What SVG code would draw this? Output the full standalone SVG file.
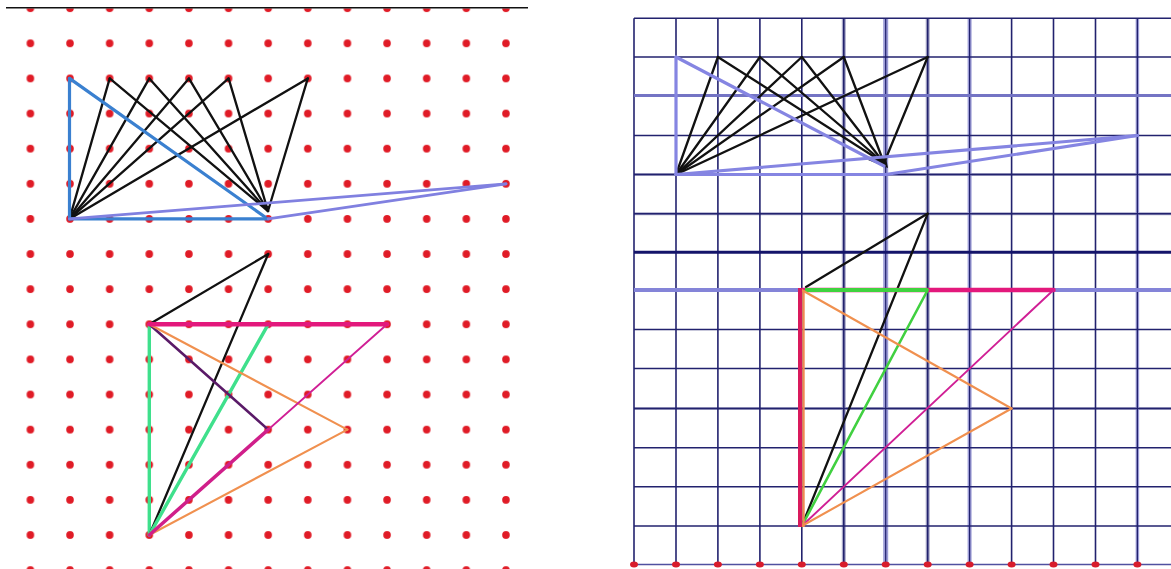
<svg xmlns="http://www.w3.org/2000/svg" width="1171" height="569" viewBox="0 0 1171 569">
<style>
.grid{stroke:#22226e;stroke-width:1.6;fill:none}
.band{stroke:#9c9cd6;stroke-width:5;fill:none}
.bandg{stroke:#a8a8c8;stroke-width:4;fill:none}
.blk{stroke:#111;stroke-width:2.3;fill:none;stroke-linecap:round}
.blue{stroke:#3a80d0;stroke-width:3.2;fill:none;stroke-linecap:round}
.lav{stroke:#8080e0;stroke-width:2.8;fill:none;stroke-linecap:round}
.lav2{stroke:#8585e2;stroke-width:3.2;fill:none;stroke-linecap:round}
.pink{stroke:#e3187c;stroke-width:4.5;fill:none;stroke-linecap:round}
.mag{stroke:#d01f95;stroke-width:1.9;fill:none;stroke-linecap:round}
.magT{stroke:#d01f8a;stroke-width:3.5;fill:none;stroke-linecap:round}
.org{stroke:#f0904f;stroke-width:2.1;fill:none;stroke-linecap:round}
.grn{stroke:#3fe08c;stroke-width:3.4;fill:none;stroke-linecap:round}
.lime{stroke:#40d040;stroke-width:2.6;fill:none;stroke-linecap:round}
.pur{stroke:#5a1a68;stroke-width:2.6;fill:none;stroke-linecap:round}
.rdot{fill:#d81c2c}
</style>
<defs>
<pattern id="dots" patternUnits="userSpaceOnUse" x="10.585" y="-9.36" width="39.63" height="35.12">
<circle cx="19.815" cy="17.56" r="3.8" fill="#e01b26"/>
</pattern>
</defs>
<rect width="1171" height="569" fill="#ffffff"/>

<!-- LEFT PANEL -->
<g id="left-board">
<rect x="10" y="8.4" width="518" height="561" fill="url(#dots)"/>
<line x1="6" y1="7.7" x2="528" y2="7.7" stroke="#111" stroke-width="1.6"/>
</g>

<g id="connectors">
<!-- left top figure -->
<g id="left-top">
<g class="blk">
<line x1="69.5" y1="218.9" x2="109.7" y2="78.4"/>
<line x1="69.5" y1="218.9" x2="149.3" y2="78.4"/>
<line x1="69.5" y1="218.9" x2="188.9" y2="78.4"/>
<line x1="69.5" y1="218.9" x2="228.6" y2="78.4"/>
<line x1="69.5" y1="218.9" x2="307.8" y2="78.4"/>
<line x1="268" y1="211" x2="109.7" y2="78.4"/>
<line x1="268" y1="211" x2="149.3" y2="78.4"/>
<line x1="268" y1="211" x2="188.9" y2="78.4"/>
<line x1="268" y1="211" x2="228.6" y2="78.4"/>
<line x1="268" y1="211" x2="307.8" y2="78.4"/>
</g>
<path d="M268,211 l-4,-5 l6,0 z" fill="#111"/>
<line class="blue" x1="69.5" y1="78.4" x2="69.5" y2="218.9"/>
<line class="blue" x1="69.5" y1="218.9" x2="268.2" y2="218.9"/>
<line class="blue" x1="69.5" y1="78.4" x2="265" y2="217" stroke="#4a8fd8"/>
<line class="lav" x1="69.5" y1="218.9" x2="506" y2="183.8"/>
<line class="lav" x1="268.2" y1="218.9" x2="506" y2="183.8"/>
</g>
<!-- left bottom figure -->
<g id="left-bottom">
<line class="grn" x1="149.3" y1="324.3" x2="149.3" y2="535"/>
<line class="blk" x1="268.2" y1="254" x2="149.3" y2="324.3"/>
<line class="blk" x1="268.2" y1="254" x2="149.3" y2="535"/>
<line class="grn" x1="268.2" y1="324.3" x2="149.3" y2="535" stroke-width="2.4"/>
<line class="pur" x1="149.3" y1="324.3" x2="268.2" y2="429.6"/>
<line class="org" x1="149.3" y1="324.3" x2="347.4" y2="429.6"/>
<line class="org" x1="347.4" y1="429.6" x2="149.3" y2="535"/>
<line class="mag" x1="387.1" y1="324.3" x2="149.3" y2="535"/>
<line class="magT" x1="268.2" y1="429.6" x2="149.3" y2="535"/>
<line class="pink" x1="149.3" y1="324.3" x2="387.1" y2="324.3"/>
</g>
</g>

<!-- RIGHT PANEL GRID -->
<g id="right-board">
<g class="bandg">
<line x1="843.8" y1="18.3" x2="843.8" y2="564.5"/>
<line x1="927.7" y1="18.3" x2="927.7" y2="564.5"/>
<line x1="634" y1="174.5" x2="1171" y2="174.5" stroke-width="3"/>
<line x1="634" y1="213.8" x2="1171" y2="213.8" stroke-width="3"/>
<line x1="634" y1="408.5" x2="1171" y2="408.5" stroke-width="3"/>
</g>
<g class="band">
<line x1="885.7" y1="18.3" x2="885.7" y2="564.5"/>
<line x1="969.6" y1="18.3" x2="969.6" y2="564.5" stroke-width="4"/>
<line x1="1137.4" y1="18.3" x2="1137.4" y2="564.5" stroke-width="3.5"/>
</g>
<g class="grid">
<line x1="634" y1="18.3" x2="634" y2="564.5"/>
<line x1="676" y1="18.3" x2="676" y2="564.5"/>
<line x1="717.9" y1="18.3" x2="717.9" y2="564.5"/>
<line x1="759.9" y1="18.3" x2="759.9" y2="564.5"/>
<line x1="801.8" y1="18.3" x2="801.8" y2="564.5"/>
<line x1="843.8" y1="18.3" x2="843.8" y2="564.5"/>
<line x1="885.7" y1="18.3" x2="885.7" y2="564.5" stroke-width="1.2"/>
<line x1="927.7" y1="18.3" x2="927.7" y2="564.5"/>
<line x1="969.6" y1="18.3" x2="969.6" y2="564.5" stroke-width="1.2"/>
<line x1="1011.6" y1="18.3" x2="1011.6" y2="564.5"/>
<line x1="1053.5" y1="18.3" x2="1053.5" y2="564.5"/>
<line x1="1095.5" y1="18.3" x2="1095.5" y2="564.5"/>
<line x1="1137.4" y1="18.3" x2="1137.4" y2="564.5" stroke-width="1.2"/>
<line x1="634" y1="18.3" x2="1171" y2="18.3"/>
<line x1="634" y1="57" x2="1171" y2="57"/>
<line x1="634" y1="135.5" x2="1171" y2="135.5"/>
<line x1="634" y1="174.5" x2="1171" y2="174.5"/>
<line x1="634" y1="213.8" x2="1171" y2="213.8"/>
<line x1="634" y1="252.3" x2="1171" y2="252.3" stroke-width="3" stroke="#14146a"/>
<line x1="634" y1="329.5" x2="1171" y2="329.5"/>
<line x1="634" y1="368.5" x2="1171" y2="368.5"/>
<line x1="634" y1="408.5" x2="1171" y2="408.5"/>
<line x1="634" y1="447.8" x2="1171" y2="447.8"/>
<line x1="634" y1="486.7" x2="1171" y2="486.7"/>
<line x1="634" y1="526" x2="1171" y2="526"/>
<line x1="634" y1="564.5" x2="1171" y2="564.5" stroke="#5050a0" stroke-width="1.4"/>
</g>
<line x1="634" y1="95.5" x2="1171" y2="95.5" stroke="#7474c4" stroke-width="3"/>
<line x1="634" y1="290" x2="1171" y2="290" stroke="#8484d8" stroke-width="4"/>
<g class="rdot">
<ellipse cx="634" cy="564.5" rx="4" ry="3"/>
<ellipse cx="676" cy="564.5" rx="4" ry="3"/>
<ellipse cx="717.9" cy="564.5" rx="4" ry="3"/>
<ellipse cx="759.9" cy="564.5" rx="4" ry="3"/>
<ellipse cx="801.8" cy="564.5" rx="4" ry="3"/>
<ellipse cx="843.8" cy="564.5" rx="4" ry="3"/>
<ellipse cx="885.7" cy="564.5" rx="4" ry="3"/>
<ellipse cx="927.7" cy="564.5" rx="4" ry="3"/>
<ellipse cx="969.6" cy="564.5" rx="4" ry="3"/>
<ellipse cx="1011.6" cy="564.5" rx="4" ry="3"/>
<ellipse cx="1053.5" cy="564.5" rx="4" ry="3"/>
<ellipse cx="1095.5" cy="564.5" rx="4" ry="3"/>
<ellipse cx="1137.4" cy="564.5" rx="4" ry="3"/>
</g>
</g>

<g id="right-figures">
<g id="right-top">
<g class="blk">
<line x1="676" y1="174.5" x2="717.9" y2="57"/>
<line x1="676" y1="174.5" x2="759.9" y2="57"/>
<line x1="676" y1="174.5" x2="801.8" y2="57"/>
<line x1="676" y1="174.5" x2="843.8" y2="57"/>
<line x1="676" y1="174.5" x2="927.7" y2="57"/>
<line x1="884" y1="163" x2="717.9" y2="57"/>
<line x1="884" y1="163" x2="759.9" y2="57"/>
<line x1="884" y1="163" x2="801.8" y2="57"/>
<line x1="884" y1="163" x2="843.8" y2="57"/>
<line x1="884" y1="163" x2="927.7" y2="57"/>
</g>
<path d="M868,160 l18,-2 l2,10 z" fill="#111"/>
<line class="lav2" x1="676" y1="57" x2="676" y2="174.5"/>
<line class="lav2" x1="676" y1="57" x2="884" y2="166"/>
<line class="lav2" x1="676" y1="174.5" x2="885.7" y2="174.5" stroke-width="3.6"/>
<line class="lav2" x1="676" y1="174.5" x2="1137.4" y2="135.5"/>
<line class="lav2" x1="885.7" y1="174.5" x2="1137.4" y2="135.5"/>
</g>
<g id="right-bottom">
<line class="blk" x1="927.7" y1="213.6" x2="806" y2="287"/>
<line class="blk" x1="927.7" y1="213.6" x2="801.8" y2="526"/>
<line class="pink" x1="801.8" y1="290" x2="1053.5" y2="290"/>
<line x1="805" y1="290" x2="927.7" y2="290" stroke="#3fd23f" stroke-width="4"/>
<line class="lime" x1="927.7" y1="290" x2="801.8" y2="526"/>
<line class="mag" x1="1053.5" y1="290" x2="801.8" y2="526"/>
<line class="org" x1="801.8" y1="290" x2="1011.6" y2="408.5"/>
<line class="org" x1="1011.6" y1="408.5" x2="801.8" y2="526"/>
<line x1="800" y1="288" x2="800" y2="527" stroke="#d91a5c" stroke-width="4"/>
<line x1="803.5" y1="290" x2="803.5" y2="527" stroke="#f08a50" stroke-width="2.4"/>
</g>
</g>
</svg>
